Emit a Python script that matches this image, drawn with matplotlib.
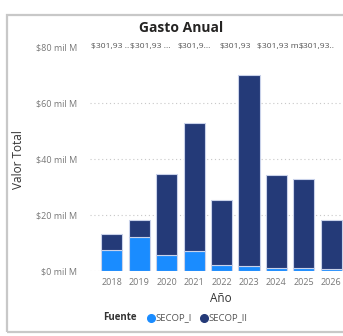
import matplotlib.pyplot as plt
import numpy as np
from matplotlib.patches import Rectangle
from matplotlib.lines import Line2D

# Data (values in "mil M")
years = ["2018", "2019", "2020", "2021", "2022", "2023", "2024", "2025", "2026"]
secop_i = [7.5, 12.0, 5.7, 7.1, 2.3, 1.8, 1.0, 1.0, 0.6]
totals = [13.3, 18.2, 34.7, 52.9, 25.4, 70.0, 34.2, 32.7, 18.2]
secop_ii = [t - a for t, a in zip(totals, secop_i)]
yticks = [0, 20, 40, 60, 80]
top_labels = ["$301,93 ..", "$301,93 ...", "$301,9...", "$301,93", "$301,93 m.", "$301,93.."]
top_label_x = [-0.77, 0.66, 2.41, 3.94, 5.29, 6.82]  # left edge in bar units

c_i = "#1A8CFF"
c_ii = "#243A78"
grey = "#777777"
plt.rcParams['font.family'] = ['Open Sans', 'DejaVu Sans']

fig = plt.figure(figsize=(3.43, 3.36), dpi=100)
ax = fig.add_axes([90 / 343, 1 - 271 / 336, 253 / 343, 226 / 336])

x = np.arange(len(years))
ax.bar(x, secop_i, width=0.77, color=c_i, edgecolor="#c9d2ea", linewidth=0.8, zorder=3)
ax.bar(x, secop_ii, bottom=secop_i, width=0.77, color=c_ii, edgecolor="#c9d2ea", linewidth=0.8, zorder=3)

ax.set_xlim(-0.8, 8.43)
ax.set_ylim(0, 80.7)
ax.set_yticks(yticks)
ax.set_yticklabels([f"${v} mil M" for v in yticks], color=grey, fontsize=6.5)
ax.set_xticks(x)
ax.set_xticklabels(years, color=grey, fontsize=6.5)
ax.tick_params(length=0, pad=5)
ax.tick_params(axis='y', pad=9)
for v in yticks[:-1]:
    ax.axhline(v, color="#c8c8c8", linestyle=(0, (1, 2.5)), linewidth=0.8, zorder=1)
for s in ax.spines.values():
    s.set_visible(False)

for lab, lx in zip(top_labels, top_label_x):
    ax.text(lx, 80, lab, ha='left', va='center', fontsize=6.1, color="#555555")

fig.text(18 / 343, 1 - 160 / 336, "Valor Total", rotation=90, ha='center', va='center',
         fontsize=8.5, color="#333333")
fig.text(221 / 343, 1 - 298 / 336, "Año", ha='center', va='center', fontsize=8.5, color="#333333")
fig.text(181 / 343, 1 - 28 / 336, "Gasto Anual", ha='center', va='center', fontsize=10,
         fontweight='bold', color="#252423")

# legend row
ly = 1 - 318 / 336
fig.text(103 / 343, ly, "Fuente", ha='left', va='center', fontsize=7, fontweight='bold', color="#333333")
fig.add_artist(Line2D([151 / 343], [ly], marker='o', markersize=5.5, color=c_i, transform=fig.transFigure))
fig.text(155 / 343, ly, "SECOP_I", ha='left', va='center', fontsize=6.8, color="#555555")
fig.add_artist(Line2D([204 / 343], [ly], marker='o', markersize=5.5, color=c_ii, transform=fig.transFigure))
fig.text(208 / 343, ly, "SECOP_II", ha='left', va='center', fontsize=6.8, color="#555555")

# visual frame
fig.add_artist(Rectangle((7 / 343, 1 - 332 / 336), 340 / 343, 317 / 336, fill=False,
                         edgecolor="#c8c8c8", linewidth=1.6, transform=fig.transFigure))

fig.savefig("out.png", dpi=100)
